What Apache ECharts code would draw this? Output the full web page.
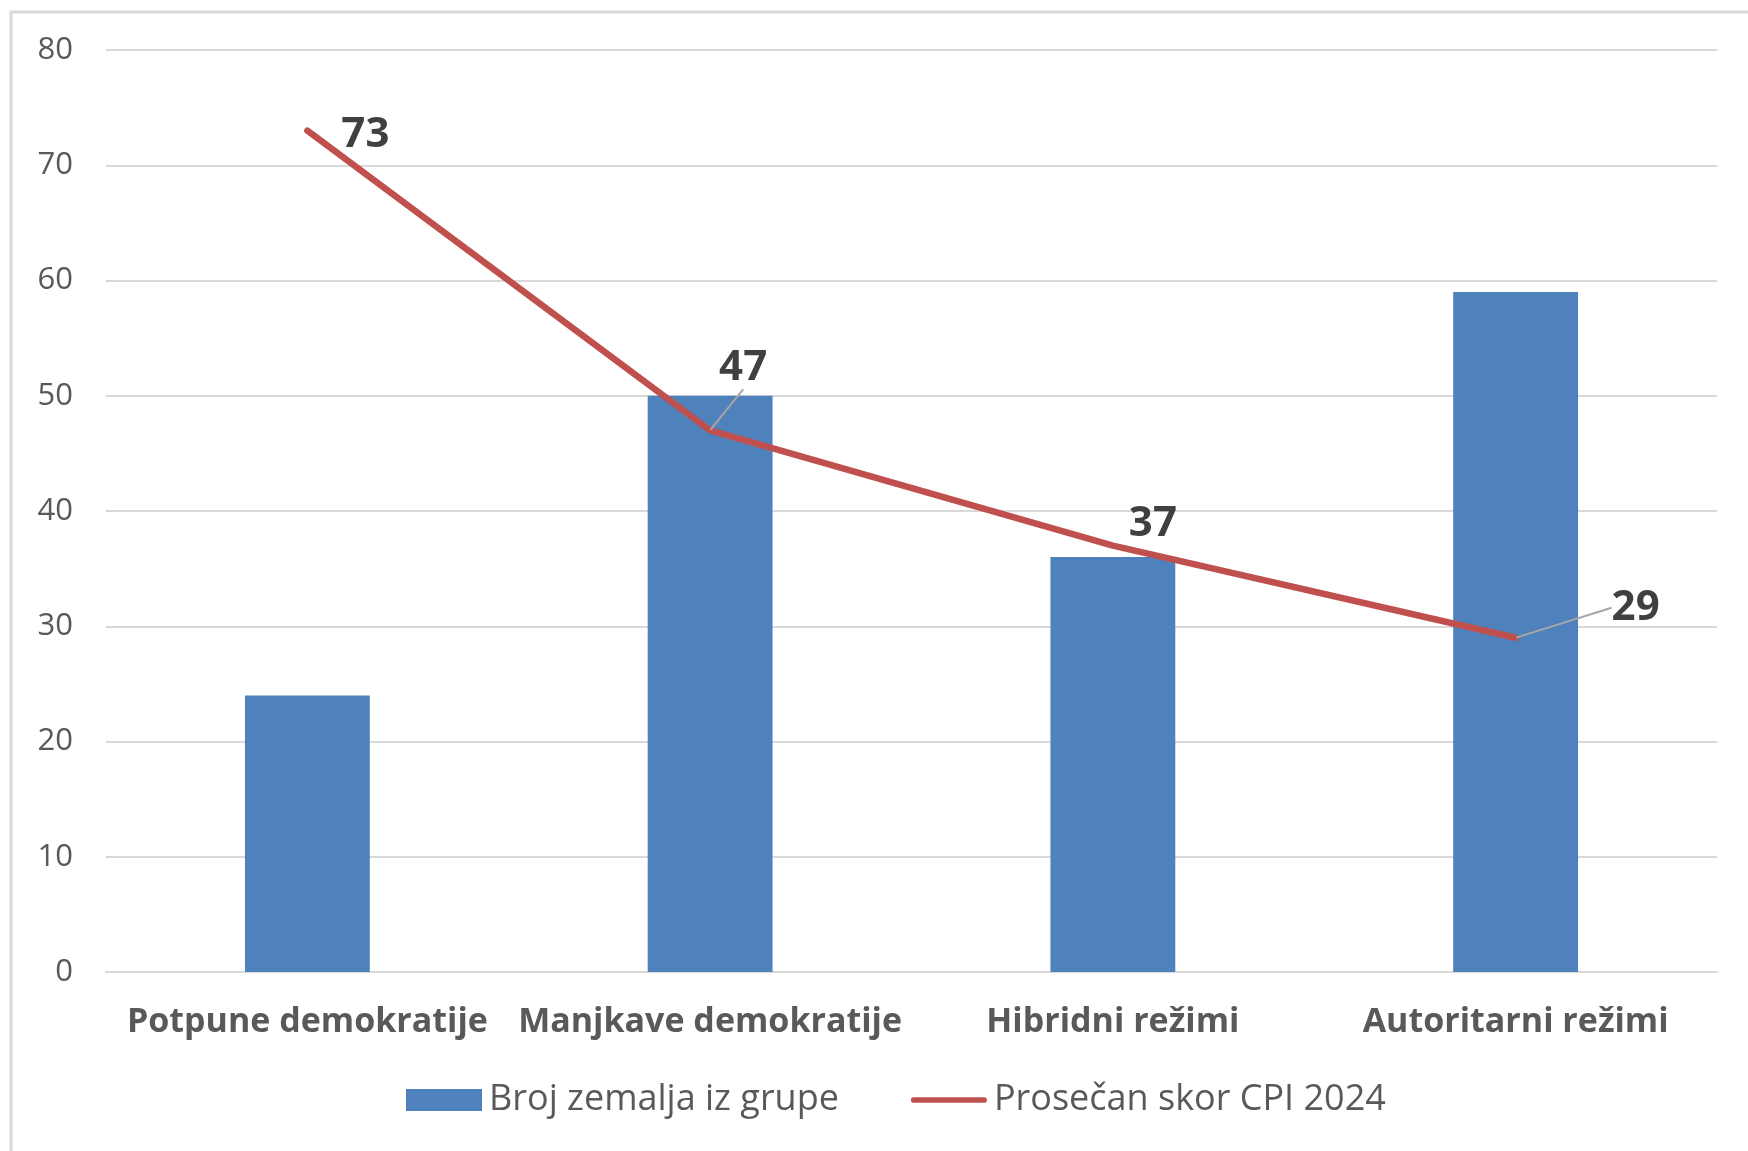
<!DOCTYPE html>
<html>
<head>
<meta charset="utf-8">
<script src="https://cdn.jsdelivr.net/npm/echarts@6/dist/echarts.min.js"></script>
<style>
html,body{margin:0;padding:0;background:#fff;}
#chart{width:1748px;height:1151px;}
</style>
</head>
<body>
<div id="chart"></div>
<script>
const categories = ['Potpune demokratije', 'Manjkave demokratije', 'Hibridni režimi', 'Autoritarni režimi'];
const countries = [24, 50, 36, 59];
const cpiScores = [73, 47, 37, 29];
const seriesNames = ['Broj zemalja iz grupe', 'Prosečan skor CPI 2024'];
const yTicks = { min: 0, max: 80, interval: 10 };

const labelShift = [[58, 4], [33, -62], [40, -22], [120, -30]];
const showGuide = [false, true, false, true];

const chart = echarts.init(document.getElementById('chart'));
const option = {
  backgroundColor: '#fff',
  animation: false,
  textStyle: { fontFamily: 'Open Sans' },
  graphic: [{
    type: 'rect',
    shape: { x: 11, y: 12, width: 1800, height: 1200 },
    style: { fill: 'none', stroke: '#D9D9D9', lineWidth: 3 },
    silent: true, z: -1
  }],
  grid: { left: 106, right: 31, top: 50, bottom: 179 },
  legend: {
    bottom: 28,
    left: 401,
    itemWidth: 76,
    itemHeight: 22,
    itemGap: 72,
    textStyle: { fontSize: 36, color: '#595959', fontFamily: 'Open Sans', padding: [0, 0, 0, 2] },
    data: [
      { name: seriesNames[0], icon: 'rect' },
      { name: seriesNames[1], icon: 'path://M3,0 H77 A3,3 0 0 1 77,6 H3 A3,3 0 0 1 3,0 Z' }
    ]
  },
  xAxis: {
    type: 'category',
    data: categories,
    axisTick: { show: false },
    axisLine: { lineStyle: { color: '#D9D9D9', width: 2 } },
    axisLabel: { color: '#595959', fontSize: 34, fontWeight: 'bold', margin: 33, interval: 0 }
  },
  yAxis: {
    type: 'value',
    min: yTicks.min, max: yTicks.max, interval: yTicks.interval,
    axisLine: { show: false },
    axisTick: { show: false },
    splitLine: { lineStyle: { color: '#D9D9D9', width: 2 } },
    axisLabel: { color: '#595959', fontSize: 31, margin: 33 }
  },
  series: [
    {
      name: seriesNames[0],
      type: 'bar',
      data: countries,
      barWidth: '31%',
      itemStyle: { color: '#4F81BD' }
    },
    {
      name: seriesNames[1],
      type: 'line',
      data: cpiScores.map((v, i) => ({ value: v, labelLine: { show: showGuide[i] } })),
      symbol: 'circle',
      symbolSize: 1,
      itemStyle: { color: '#C0504D' },
      lineStyle: { color: '#C0504D', width: 6.5, cap: 'round', join: 'round' },
      label: {
        show: true,
        position: 'inside',
        color: '#404040',
        fontSize: 42,
        fontWeight: 'bold',
        fontFamily: 'Open Sans'
      },
      labelLine: { show: true, lineStyle: { color: '#A6A6A6', width: 2 } },
      labelLayout: function (p) {
        const s = labelShift[p.dataIndex];
        return { dx: s[0], dy: s[1] };
      }
    }
  ]
};
chart.setOption(option);
</script>
</body>
</html>
